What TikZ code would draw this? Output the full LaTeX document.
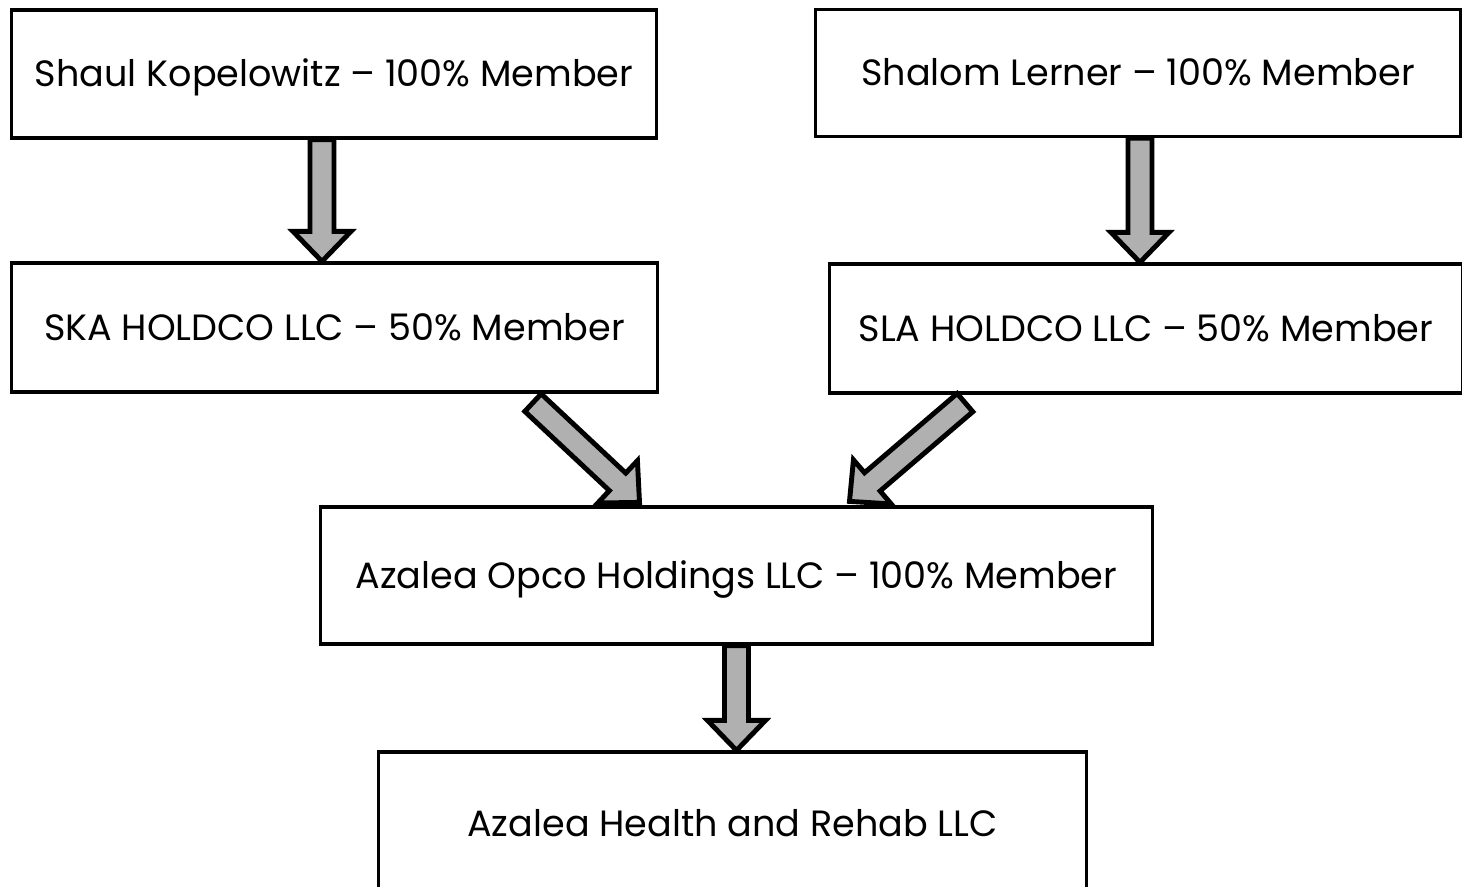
\documentclass[tikz,border=0pt]{standalone}
\usepackage{fontspec}
\setmainfont{Poppins}
\usetikzlibrary{calc}

\tikzset{
  member/.style={draw, line width=0.9pt, fill=white, inner sep=0pt,
    text height=0.25cm, text depth=0pt, font=\fontsize{10.4}{12}\selectfont},
  fatarrow/.style={draw, fill=gray!62, line width=1.4pt, line join=miter},
}

% block arrow from tail #1 to tip #2
\newcommand{\ownerarrow}[2]{%
  \coordinate (hb) at ($(#2)!0.3cm!(#1)$);
  \draw[fatarrow] ($(#1)!0.12cm!90:(#2)$) -- ($(hb)!0.12cm!90:(#2)$)
    -- ($(hb)!0.29cm!90:(#2)$) -- (#2) -- ($(hb)!0.29cm!-90:(#2)$)
    -- ($(hb)!0.12cm!-90:(#2)$) -- ($(#1)!0.12cm!-90:(#2)$) -- cycle;}

\begin{document}
\begin{tikzpicture}[x=0.01cm, y=-0.01cm]
\useasboundingbox (0,0) rectangle (1462,887);

\node[member, minimum width=6.44cm, minimum height=1.28cm] (kop) at (334,74) {Shaul Kopelowitz -- 100\% Member};
\node[member, minimum width=6.44cm, minimum height=1.27cm] (ler) at (1138,73) {Shalom Lerner -- 100\% Member};
\node[member, minimum width=6.45cm, minimum height=1.29cm] (ska) at (334.5,327.5) {SKA HOLDCO LLC -- 50\% Member};
\node[member, minimum width=6.32cm, minimum height=1.29cm] (sla) at (1146,328.5) {SLA HOLDCO LLC -- 50\% Member};
\node[member, minimum width=8.31cm, minimum height=1.37cm] (opco) at (736.5,575.5) {Azalea Opco Holdings LLC -- 100\% Member};
\node[member, minimum width=7.07cm, minimum height=1.43cm] (reh) at (732.5,823.5) {Azalea Health and Rehab LLC};

% ownership arrows
\coordinate (a1) at ($(kop.south)+(-12,0)$);
\ownerarrow{a1}{a1 |- ska.north}
\coordinate (a2) at ($(ler.south)+(2,0)$);
\ownerarrow{a2}{a2 |- sla.north}
\coordinate (a3) at ($(ska.south)+(198.5,9)$);
\coordinate (a3t) at ($(opco.north)+(-97,-3)$);
\ownerarrow{a3}{a3t}
\coordinate (a4) at ($(sla.south)+(-181,8)$);
\coordinate (a4t) at ($(opco.north)+(113,-4)$);
\ownerarrow{a4}{a4t}
\ownerarrow{opco.south}{opco.south |- reh.north}
\end{tikzpicture}
\end{document}
